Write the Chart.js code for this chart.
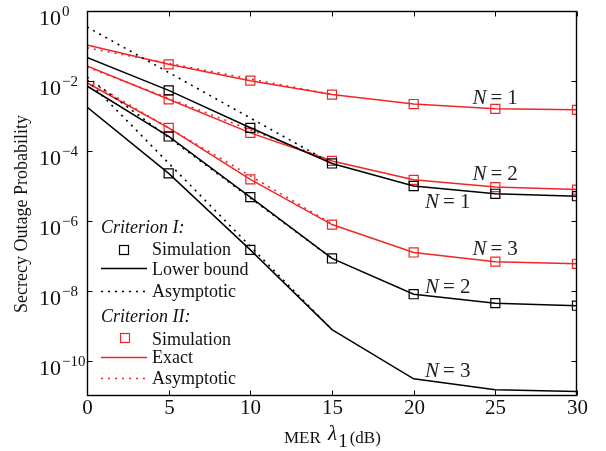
<!DOCTYPE html>
<html>
<head>
<meta charset="utf-8">
<script src="https://cdn.jsdelivr.net/npm/chart.js@4/dist/chart.umd.min.js"></script>
<style>
  html, body { margin: 0; padding: 0; background: #fff; }
  canvas { display: block; }
</style>
</head>
<body>
<canvas id="sop" width="606" height="451"></canvas>
<script>
// ---------------- Daten ----------------
const mer = [0, 5, 10, 15, 20, 25, 30];          // MER lambda_1 (dB)
const simMer = [5, 10, 15, 20, 25, 30];
const simMerN3 = [5, 10];
const asymMer = [0, 15];

// Criterion I: lower bound
const lowerN1 = [4.7e-2, 5.4e-3, 4.6e-4, 4.4e-5, 1.0e-5, 6.0e-6, 5.1e-6];
const lowerN2 = [7.2e-3, 2.6e-4, 4.8e-6, 8.5e-8, 8.1e-9, 4.5e-9, 3.8e-9];
const lowerN3 = [1.8e-3, 2.3e-5, 1.5e-7, 7.9e-10, 3.1e-11, 1.5e-11, 1.35e-11];
// Criterion I: simulation
const simIN1 = [5.4e-3, 4.6e-4, 4.4e-5, 1.0e-5, 6.0e-6, 5.1e-6];
const simIN2 = [2.6e-4, 4.8e-6, 8.5e-8, 8.1e-9, 4.5e-9, 3.8e-9];
const simIN3 = [2.3e-5, 1.5e-7];
// Criterion I: asymptotic
const asymIN1 = [3.5e-1, 4.4e-5];
const asymIN2 = [1.3e-2, 8.5e-8];
const asymIN3 = [1.07e-2, 7.9e-10];

// Criterion II: exact
const exactN1 = [1.07e-1, 3.0e-2, 1.02e-2, 4.1e-3, 2.2e-3, 1.6e-3, 1.5e-3];
const exactN2 = [2.7e-2, 3.0e-3, 3.3e-4, 5.2e-5, 1.5e-5, 9.3e-6, 7.9e-6];
const exactN3 = [8.9e-3, 4.6e-4, 1.55e-5, 7.9e-7, 1.26e-7, 6.9e-8, 6.0e-8];
// Criterion II: simulation
const simIIN1 = [3.0e-2, 1.02e-2, 4.1e-3, 2.2e-3, 1.6e-3, 1.5e-3];
const simIIN2 = [3.0e-3, 3.3e-4, 5.2e-5, 1.5e-5, 9.3e-6, 7.9e-6];
const simIIN3 = [4.6e-4, 1.55e-5, 7.9e-7, 1.26e-7, 6.9e-8, 6.0e-8];
// Criterion II: asymptotic
const asymIIN1 = [8.9e-2, 4.1e-3];
const asymIIN2 = [2.5e-2, 5.2e-5];
const asymIIN3 = [1.07e-2, 8.3e-7];

// Achsen
const xTicks = [0, 5, 10, 15, 20, 25, 30];
const yTicks = [1, 1e-2, 1e-4, 1e-6, 1e-8, 1e-10];
const yTickExp = ['0', '\u22122', '\u22124', '\u22126', '\u22128', '\u221210'];

// ---------------- Styles ----------------
const BLACK = '#000000';
const RED = '#f02626';
const SERIF = '"Liberation Serif", "Times New Roman", serif';

const pts = (xs, ys) => xs.map((x, i) => ({ x: x, y: ys[i] }));

function lineSet(xs, ys, color, dotted) {
  return {
    data: pts(xs, ys),
    borderColor: color,
    borderWidth: dotted ? 1.6 : 1.5,
    borderDash: dotted ? [2, 5] : [],
    pointRadius: 0,
    fill: false,
    tension: 0
  };
}

function simSet(xs, ys, color) {
  return {
    data: pts(xs, ys),
    showLine: false,
    pointStyle: 'rect',
    pointRadius: 6.4,
    pointBorderColor: color,
    pointBackgroundColor: 'rgba(0,0,0,0)',
    pointBorderWidth: 1.2
  };
}

const datasets = [
  lineSet(asymMer, asymIN1, BLACK, true),
  lineSet(asymMer, asymIN2, BLACK, true),
  lineSet(asymMer, asymIN3, BLACK, true),
  lineSet(mer, lowerN1, BLACK, false),
  lineSet(mer, lowerN2, BLACK, false),
  lineSet(mer, lowerN3, BLACK, false),
  simSet(simMer, simIN1, BLACK),
  simSet(simMer, simIN2, BLACK),
  simSet(simMerN3, simIN3, BLACK),
  lineSet(asymMer, asymIIN1, RED, true),
  lineSet(asymMer, asymIIN2, RED, true),
  lineSet(asymMer, asymIIN3, RED, true),
  lineSet(mer, exactN1, RED, false),
  lineSet(mer, exactN2, RED, false),
  lineSet(mer, exactN3, RED, false),
  simSet(simMer, simIIN1, RED),
  simSet(simMer, simIIN2, RED),
  simSet(simMer, simIIN3, RED)
];

// Beschriftungen "N = k" (Datenkoordinaten, linksbündig)
const curveLabels = [
  { n: '1', x: 23.6, y: 3.2e-3 },
  { n: '2', x: 23.6, y: 2.2e-5 },
  { n: '1', x: 20.7, y: 3.4e-6 },
  { n: '3', x: 23.6, y: 1.5e-7 },
  { n: '2', x: 20.7, y: 1.3e-8 },
  { n: '3', x: 20.7, y: 5.0e-11 }
];

// ---------------- Rahmen, Achsen, Legende ----------------
const framePlugin = {
  id: 'frame',
  afterDraw(chart) {
    const { ctx, chartArea: a, scales } = chart;
    const sx = scales.x, sy = scales.y;
    const L = Math.round(a.left) + 0.5, R = Math.round(a.right) - 0.5;
    const T = Math.round(a.top) + 0.5, B = Math.round(a.bottom) - 0.5;
    ctx.save();

    const seg = (x1, y1, x2, y2) => { ctx.beginPath(); ctx.moveTo(x1, y1); ctx.lineTo(x2, y2); ctx.stroke(); };

    // Rahmen
    ctx.strokeStyle = '#000';
    ctx.lineWidth = 1.4;
    ctx.strokeRect(L, T, R - L, B - T);

    // Ticks (nach innen)
    ctx.lineWidth = 1;
    ctx.fillStyle = '#111';
    ctx.font = '21px ' + SERIF;
    ctx.textAlign = 'center';
    ctx.textBaseline = 'alphabetic';
    xTicks.forEach(v => {
      const px = Math.round(sx.getPixelForValue(v)) + 0.5;
      seg(px, B, px, B - 5);
      seg(px, T, px, T + 5);
      ctx.fillText(String(v), px, B + 18);
    });
    yTicks.forEach((v, i) => {
      const py = Math.round(sy.getPixelForValue(v)) + 0.5;
      seg(L, py, L + 5, py);
      seg(R, py, R - 5, py);
      ctx.textAlign = 'left';
      ctx.font = '22px ' + SERIF;
      ctx.fillText('10', 39, py + 13);
      const w = ctx.measureText('10').width;
      ctx.font = '15px ' + SERIF;
      ctx.fillText(yTickExp[i], 39 + w + 1, py + 4);
    });

    // Achsentitel
    ctx.font = '18px ' + SERIF;
    ctx.textAlign = 'center';
    ctx.save();
    ctx.translate(27, 214);
    ctx.rotate(-Math.PI / 2);
    ctx.fillText('Secrecy Outage Probability', 0, 0);
    ctx.restore();

    ctx.textAlign = 'left';
    let tx = 284;
    ctx.font = '17px ' + SERIF;
    ctx.fillText('MER ', tx, 443);
    tx += ctx.measureText('MER ').width + 3;
    ctx.font = 'italic 21px ' + SERIF;
    ctx.fillText('\u03bb', tx, 440);
    tx += ctx.measureText('\u03bb').width + 1;
    ctx.font = '19px ' + SERIF;
    ctx.fillText('1', tx, 447);
    tx += ctx.measureText('1').width + 2;
    ctx.font = '17px ' + SERIF;
    ctx.fillText('(dB)', tx, 443);

    // Kurvenbeschriftungen
    ctx.fillStyle = '#222';
    ctx.textBaseline = 'middle';
    curveLabels.forEach(l => {
      let px = sx.getPixelForValue(l.x);
      const py = sy.getPixelForValue(l.y);
      ctx.font = 'italic 21px ' + SERIF;
      ctx.fillText('N', px, py);
      px += ctx.measureText('N').width + 4;
      ctx.font = '21px ' + SERIF;
      ctx.fillText('=', px, py);
      px += ctx.measureText('=').width + 5;
      ctx.fillText(l.n, px, py);
    });

    // Legende
    ctx.textBaseline = 'alphabetic';
    ctx.fillStyle = '#111';
    const sq = (cx, cy, color) => {
      ctx.strokeStyle = color; ctx.lineWidth = 1.2; ctx.setLineDash([]);
      ctx.strokeRect(cx - 4.5, cy - 4.5, 9, 9);
    };
    const ln = (cy, color, dotted) => {
      ctx.strokeStyle = color; ctx.lineWidth = dotted ? 1.6 : 1.5;
      ctx.setLineDash(dotted ? [2, 5] : []);
      seg(101, cy, 147, cy);
      ctx.setLineDash([]);
    };
    ctx.font = 'italic 18px ' + SERIF;
    ctx.fillText('Criterion I:', 101, 233);
    ctx.fillText('Criterion II:', 101, 322);
    ctx.font = '18px ' + SERIF;
    ctx.fillText('Simulation', 152, 255);
    ctx.fillText('Lower bound', 152, 275);
    ctx.fillText('Asymptotic', 152, 297);
    ctx.fillText('Simulation', 152, 345);
    ctx.fillText('Exact', 152, 363);
    ctx.fillText('Asymptotic', 152, 384);
    sq(124, 250, BLACK);
    ln(268.5, BLACK, false);
    ln(291.5, BLACK, true);
    sq(125, 338, RED);
    ln(357.5, RED, false);
    ln(378.5, RED, true);

    ctx.restore();
  }
};

// ---------------- Diagramm ----------------
new Chart(document.getElementById('sop'), {
  type: 'line',
  data: { datasets: datasets },
  options: {
    responsive: false,
    animation: false,
    layout: { padding: { left: 87, right: 29, top: 11, bottom: 55 } },
    plugins: { legend: { display: false }, tooltip: { enabled: false } },
    scales: {
      x: { type: 'linear', min: 0, max: 30, display: false },
      y: { type: 'logarithmic', min: 1e-11, max: 1, display: false }
    }
  },
  plugins: [framePlugin]
});
</script>
</body>
</html>
